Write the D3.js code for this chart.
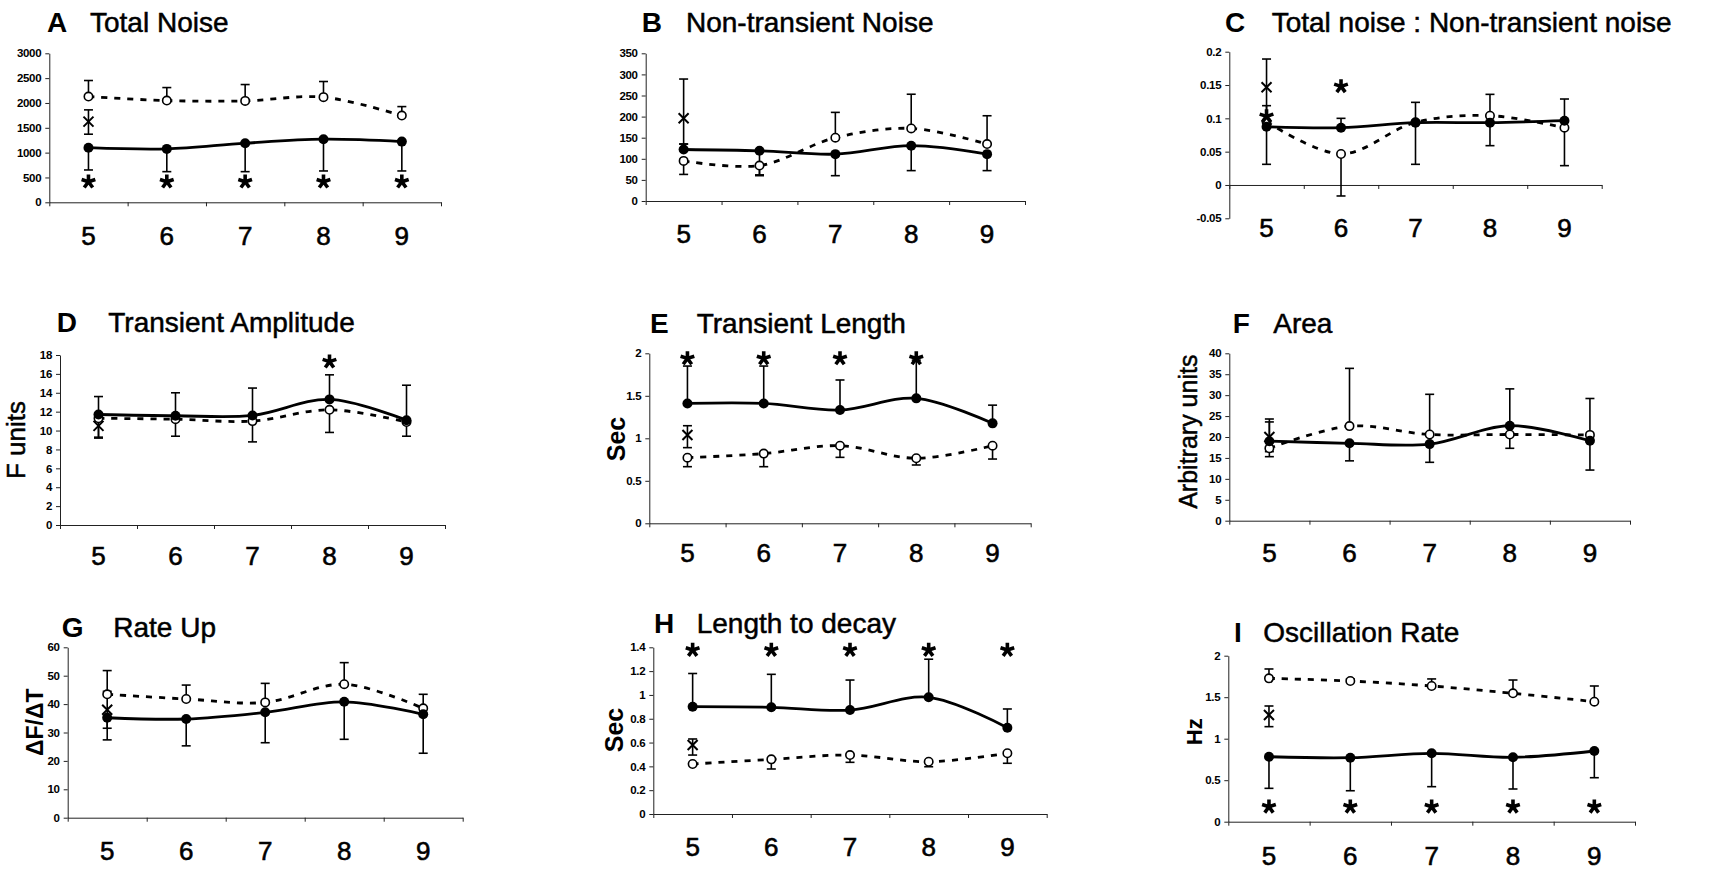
<!DOCTYPE html>
<html>
<head>
<meta charset="utf-8">
<script src="https://cdn.jsdelivr.net/npm/d3@7"></script>
<style>
  body { margin: 0; background: #fff; }
  svg { display: block; font-family: "Liberation Sans", Arial, sans-serif; }
</style>
</head>
<body>
<svg id="fig" width="1725" height="870"></svg>
<script>
// Developmental day (x categories shared by every panel)
const days = ["5", "6", "7", "8", "9"];

// A  Total Noise
const aTicks = [0, 500, 1000, 1500, 2000, 2500, 3000];
const aFilled = [1100, 1075, 1190, 1270, 1222];
const aFilledBar = [651, 617, 617, 631, 631];
const aOpen = [2129, 2048, 2042, 2117, 1746];
const aOpenBar = [2452, 2310, 2371, 2432, 1927];
const aCross = [1625, 1371, 1861];
const aStarDays = [0, 1, 2, 3, 4];
const aStarLevels = [415, 415, 415, 415, 415];

// B  Non-transient Noise
const bTicks = [0, 50, 100, 150, 200, 250, 300, 350];
const bFilled = [122, 119, 111, 131, 111];
const bFilledBar = [135, 60, 60, 72, 72];
const bOpen = [95, 84, 150, 172, 135];
const bOpenBar = [63, 62, 210, 253, 202];
const bCross = [196, 135, 289];
const bStarDays = [];
const bStarLevels = [];

// C  Total noise : Non-transient noise
const cTicks = [-0.05, 0, 0.05, 0.1, 0.15, 0.2];
const cFilled = [0.0875, 0.086, 0.0935, 0.0935, 0.0965];
const cFilledBar = [0.031, 0.100, 0.124, 0.059, 0.129];
const cOpen = [0.095, 0.0465, 0.094, 0.104, 0.086];
const cOpenBar = [0.119, -0.0165, 0.031, 0.136, 0.029];
const cCross = [0.1467, 0.105, 0.189];
const cStarDays = [0, 1];
const cStarLevels = [0.103, 0.148];

// D  Transient Amplitude
const dTicks = [0, 2, 4, 6, 8, 10, 12, 14, 16, 18];
const dFilled = [11.7, 11.57, 11.6, 13.3, 11.1];
const dFilledBar = [13.6, 14.0, 14.5, 15.9, 14.8];
const dOpen = [11.3, 11.2, 11.0, 12.2, 10.9];
const dOpenBar = [9.2, 9.4, 8.8, 9.8, 9.4];
const dCross = [10.5, 9.3, 11.8];
const dStarDays = [3];
const dStarLevels = [17.3];

// E  Transient Length
const eTicks = [0, 0.5, 1, 1.5, 2];
const eFilled = [1.41, 1.41, 1.333, 1.47, 1.176];
const eFilledBar = [1.85, 1.85, 1.686, 1.92, 1.39];
const eOpen = [0.772, 0.82, 0.913, 0.765, 0.913];
const eOpenBar = [0.666, 0.666, 0.776, 0.686, 0.756];
const eCross = [1.039, 0.89, 1.148];
const eStarDays = [0, 1, 2, 3];
const eStarLevels = [1.94, 1.94, 1.94, 1.94];

// F  Area
const fTicks = [0, 5, 10, 15, 20, 25, 30, 35, 40];
const fFilled = [19.0, 18.5, 18.3, 22.7, 19.1];
const fFilledBar = [24.3, 14.3, 13.95, 31.5, 12.1];
const fOpen = [17.3, 22.6, 20.6, 20.6, 20.5];
const fOpenBar = [15.3, 36.4, 30.2, 17.3, 29.2];
const fCross = [20.0, 16.5, 23.6];
const fStarDays = [];
const fStarLevels = [];

// G  Rate Up
const gTicks = [0, 10, 20, 30, 40, 50, 60];
const gFilled = [35.2, 34.75, 37.1, 40.8, 36.4];
const gFilledBar = [27.4, 25.3, 26.4, 27.6, 22.7];
const gOpen = [43.45, 41.8, 40.6, 47.0, 38.5];
const gOpenBar = [51.8, 46.7, 47.3, 54.6, 43.45];
const gCross = [38, 31.5, 44.5];
const gStarDays = [];
const gStarLevels = [];

// H  Length to decay
const hTicks = [0, 0.2, 0.4, 0.6, 0.8, 1, 1.2, 1.4];
const hFilled = [0.901, 0.896, 0.873, 0.98, 0.725];
const hFilledBar = [1.18, 1.173, 1.125, 1.30, 0.882];
const hOpen = [0.42, 0.459, 0.495, 0.439, 0.51];
const hOpenBar = [0.41, 0.378, 0.434, 0.397, 0.426];
const hCross = [0.58, 0.495, 0.63];
const hStarDays = [0, 1, 2, 3, 4];
const hStarLevels = [1.377, 1.377, 1.377, 1.377, 1.377];

// I  Oscillation Rate
const iTicks = [0, 0.5, 1, 1.5, 2];
const iFilled = [0.783, 0.771, 0.824, 0.776, 0.852];
const iFilledBar = [0.402, 0.373, 0.422, 0.394, 0.53];
const iOpen = [1.727, 1.695, 1.635, 1.547, 1.446];
const iOpenBar = [1.84, 1.72, 1.72, 1.707, 1.635];
const iCross = [1.286, 1.145, 1.394];
const iStarDays = [0, 1, 2, 3, 4];
const iStarLevels = [0.18, 0.18, 0.18, 0.18, 0.18];

// Panel geometry and labelling
const panels = [
  { letter: "A", title: "Total Noise", ticks: aTicks, filled: aFilled, filledBar: aFilledBar, open: aOpen, openBar: aOpenBar, cross: aCross, starDays: aStarDays, starLevels: aStarLevels,
    x0: 49.3, x1: 441, yTop: 53.3, yBot: 202.3, letterX: 47, titleX: 90, titleY: 32, catY: 245, yLabel: null },
  { letter: "B", title: "Non-transient Noise", ticks: bTicks, filled: bFilled, filledBar: bFilledBar, open: bOpen, openBar: bOpenBar, cross: bCross, starDays: bStarDays, starLevels: bStarLevels,
    x0: 645.7, x1: 1025, yTop: 53.3, yBot: 201, letterX: 641.7, titleX: 686, titleY: 32, catY: 242.7, yLabel: null },
  { letter: "C", title: "Total noise : Non-transient noise", ticks: cTicks, filled: cFilled, filledBar: cFilledBar, open: cOpen, openBar: cOpenBar, cross: cCross, starDays: cStarDays, starLevels: cStarLevels,
    x0: 1229.3, x1: 1601.7, yTop: 51.7, yBot: 218.3, letterX: 1225, titleX: 1271.7, titleY: 32, catY: 236.7, yLabel: null },
  { letter: "D", title: "Transient Amplitude", ticks: dTicks, filled: dFilled, filledBar: dFilledBar, open: dOpen, openBar: dOpenBar, cross: dCross, starDays: dStarDays, starLevels: dStarLevels,
    x0: 60, x1: 445, yTop: 355, yBot: 525, letterX: 56.7, titleX: 108.3, titleY: 331.7, catY: 565,
    yLabel: "F units", yLabelX: 25, yLabelY: 440, yLabelSize: 26, yLabelWeight: "normal" },
  { letter: "E", title: "Transient Length", ticks: eTicks, filled: eFilled, filledBar: eFilledBar, open: eOpen, openBar: eOpenBar, cross: eCross, starDays: eStarDays, starLevels: eStarLevels,
    x0: 649.3, x1: 1030.7, yTop: 353.3, yBot: 523.3, letterX: 650, titleX: 696.7, titleY: 333.3, catY: 561.7,
    yLabel: "Sec", yLabelX: 625, yLabelY: 439, yLabelSize: 25, yLabelWeight: "bold" },
  { letter: "F", title: "Area", ticks: fTicks, filled: fFilled, filledBar: fFilledBar, open: fOpen, openBar: fOpenBar, cross: fCross, starDays: fStarDays, starLevels: fStarLevels,
    x0: 1229.3, x1: 1630, yTop: 353.3, yBot: 520.7, letterX: 1232.7, titleX: 1273.3, titleY: 333.3, catY: 561.7,
    yLabel: "Arbitrary units", yLabelX: 1196.5, yLabelY: 431.7, yLabelSize: 25, yLabelWeight: "normal" },
  { letter: "G", title: "Rate Up", ticks: gTicks, filled: gFilled, filledBar: gFilledBar, open: gOpen, openBar: gOpenBar, cross: gCross, starDays: gStarDays, starLevels: gStarLevels,
    x0: 67.7, x1: 462.7, yTop: 647.3, yBot: 817.7, letterX: 61.7, titleX: 113.3, titleY: 636.7, catY: 860,
    yLabel: "ΔF/ΔT", yLabelX: 43.3, yLabelY: 722.3, yLabelSize: 23, yLabelWeight: "bold" },
  { letter: "H", title: "Length to decay", ticks: hTicks, filled: hFilled, filledBar: hFilledBar, open: hOpen, openBar: hOpenBar, cross: hCross, starDays: hStarDays, starLevels: hStarLevels,
    x0: 653.3, x1: 1046.7, yTop: 647.3, yBot: 814, letterX: 654, titleX: 696.7, titleY: 633.3, catY: 855.7,
    yLabel: "Sec", yLabelX: 623, yLabelY: 730, yLabelSize: 25, yLabelWeight: "bold" },
  { letter: "I", title: "Oscillation Rate", ticks: iTicks, filled: iFilled, filledBar: iFilledBar, open: iOpen, openBar: iOpenBar, cross: iCross, starDays: iStarDays, starLevels: iStarLevels,
    x0: 1228.3, x1: 1635, yTop: 655.7, yBot: 821.7, letterX: 1234, titleX: 1263.3, titleY: 641.7, catY: 865,
    yLabel: "Hz", yLabelX: 1201.7, yLabelY: 731.7, yLabelSize: 22, yLabelWeight: "bold" }
];

const svg = d3.select("#fig");
const fontStack = "'Liberation Sans', Arial, sans-serif";
const capW = 4.5;

// Five-armed asterisk used to flag significant days
const asterisk = (() => {
  const p = d3.path();
  for (let k = 0; k < 5; k++) {
    const a = -Math.PI / 2 + k * 2 * Math.PI / 5;
    p.moveTo(0, 0);
    p.lineTo(7.2 * Math.cos(a), 7.2 * Math.sin(a));
  }
  return p.toString();
})();

function whisker(g, cx, from, to) {
  g.append("line").attr("x1", cx).attr("x2", cx).attr("y1", from).attr("y2", to)
    .attr("stroke", "#000").attr("stroke-width", 1.6);
  g.append("line").attr("x1", cx - capW).attr("x2", cx + capW).attr("y1", to).attr("y2", to)
    .attr("stroke", "#000").attr("stroke-width", 1.6);
}

function drawPanel(p) {
  const g = svg.append("g");
  const lo = p.ticks[0], hi = p.ticks[p.ticks.length - 1];
  const x = d3.scaleBand().domain(days).range([p.x0, p.x1]);
  const cx = i => x(days[i]) + x.bandwidth() / 2;
  const edges = d3.scaleLinear().domain([0, days.length]).range([p.x0, p.x1]);
  const y = d3.scaleLinear().domain([lo, hi]).range([p.yBot, p.yTop]);

  // Title
  g.append("text").attr("x", p.letterX).attr("y", p.titleY)
    .attr("font-size", 28).attr("font-weight", "bold").text(p.letter);
  g.append("text").attr("x", p.titleX).attr("y", p.titleY)
    .attr("font-size", 28).attr("stroke", "#000").attr("stroke-width", 0.5).text(p.title);

  // Y axis
  const yAxis = d3.axisLeft(y).tickValues(p.ticks).tickSize(4).tickSizeOuter(0)
    .tickPadding(4).tickFormat(d => String(+d.toFixed(3)));
  const ya = g.append("g").attr("transform", `translate(${p.x0},0)`).call(yAxis);
  ya.attr("font-family", fontStack).attr("font-size", 11.5).attr("font-weight", "bold");
  ya.selectAll("text").attr("fill", "#000").attr("letter-spacing", -0.3);
  ya.selectAll("line,path").attr("stroke", "#222");

  // X axis (ticks at category boundaries), crossing at value 0
  const xAxis = d3.axisBottom(edges).tickValues(d3.range(days.length + 1))
    .tickFormat("").tickSize(4).tickSizeOuter(0);
  const xa = g.append("g").attr("transform", `translate(0,${y(0)})`).call(xAxis);
  xa.selectAll("line,path").attr("stroke", "#222");

  // Category labels
  g.selectAll(".cat").data(days).join("text")
    .attr("x", d => x(d) + x.bandwidth() / 2).attr("y", p.catY)
    .attr("text-anchor", "middle").attr("font-size", 26)
    .attr("stroke", "#000").attr("stroke-width", 0.6).text(d => d);

  // Y axis title
  if (p.yLabel) {
    g.append("text")
      .attr("transform", `translate(${p.yLabelX},${p.yLabelY}) rotate(-90)`)
      .attr("text-anchor", "middle").attr("font-size", p.yLabelSize)
      .attr("font-weight", p.yLabelWeight)
      .attr("stroke", "#000").attr("stroke-width", p.yLabelWeight === "bold" ? 0 : 0.5)
      .text(p.yLabel);
  }

  const curve = d3.curveCatmullRom.alpha(0.5);
  const line = d3.line().x((d, i) => cx(i)).y(d => y(d)).curve(curve);

  // Error whiskers (one-sided, ending at the stated value)
  p.filled.forEach((v, i) => whisker(g, cx(i), y(v), y(p.filledBar[i])));
  p.open.forEach((v, i) => whisker(g, cx(i), y(v), y(p.openBar[i])));
  // Reference (×) value on day 5 with two-sided whiskers
  whisker(g, cx(0), y(p.cross[0]), y(p.cross[1]));
  whisker(g, cx(0), y(p.cross[0]), y(p.cross[2]));

  // Series lines
  g.append("path").attr("d", line(p.open)).attr("fill", "none")
    .attr("stroke", "#000").attr("stroke-width", 2.8).attr("stroke-dasharray", "6,7");
  g.append("path").attr("d", line(p.filled)).attr("fill", "none")
    .attr("stroke", "#000").attr("stroke-width", 2.8);

  // Markers
  g.selectAll(".open").data(p.open).join("circle")
    .attr("cx", (d, i) => cx(i)).attr("cy", d => y(d)).attr("r", 4.2)
    .attr("fill", "#fff").attr("stroke", "#000").attr("stroke-width", 1.6);
  g.selectAll(".filled").data(p.filled).join("circle")
    .attr("cx", (d, i) => cx(i)).attr("cy", d => y(d)).attr("r", 5)
    .attr("fill", "#000");
  g.append("path")
    .attr("transform", `translate(${cx(0)},${y(p.cross[0])})`)
    .attr("d", "M-5,-5L5,5M-5,5L5,-5")
    .attr("stroke", "#000").attr("stroke-width", 2).attr("fill", "none");

  // Significance asterisks
  g.selectAll(".star").data(p.starDays).join("path")
    .attr("transform", (d, k) => `translate(${cx(d)},${y(p.starLevels[k])})`)
    .attr("d", asterisk).attr("fill", "none").attr("stroke", "#000")
    .attr("stroke-width", 3.6).attr("stroke-linecap", "butt");
}

panels.forEach(drawPanel);
</script>
</body>
</html>
